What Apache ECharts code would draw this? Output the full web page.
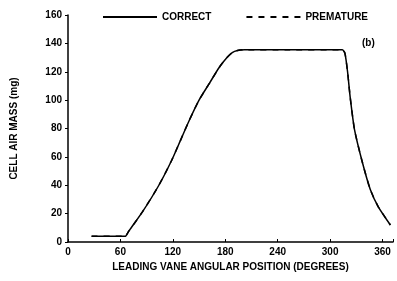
<!DOCTYPE html>
<html><head><meta charset="utf-8">
<script src="https://cdn.jsdelivr.net/npm/echarts@6/dist/echarts.min.js"></script>
<style>html,body{margin:0;padding:0;background:#fff}#c{width:397px;height:281px}</style>
</head><body><div id="c"></div>
<script>
var angles = [27, 66, 67, 70, 85, 104, 119, 129, 139, 150, 162, 173, 182, 188, 194, 202, 250, 314, 317, 320, 323, 328, 337, 346, 355, 369];
var correctMass = [4, 4, 5, 8, 21, 40, 58, 72, 86, 100, 112, 123, 130, 133.5, 135, 135.5, 135.5, 135.5, 133, 120, 102, 79, 56, 37, 25, 12];
var prematureMass = [4, 4, 5, 8, 21, 40, 58, 72, 86, 100, 112, 123, 130, 133.5, 135, 135.5, 135.5, 135.5, 133, 120, 102, 79, 56, 37, 25, 12];
var xTicks = [0, 60, 120, 180, 240, 300, 360];
var yTicks = [0, 20, 40, 60, 80, 100, 120, 140, 160];

function pairs(xs, ys){ return xs.map(function(x,i){return [x, ys[i]];}); }
var F = 'Liberation Sans, Arial, sans-serif';
var chart = echarts.init(document.getElementById('c'), null, {renderer:'canvas'});
chart.setOption({
  animation:false,
  backgroundColor:'#fff',
  grid:{left:68, right:4, top:15, bottom:39},
  legend:{
    left:97, top:7, itemWidth:54, itemHeight:8, itemGap:34,
    itemStyle:{opacity:0},
    textStyle:{fontFamily:F, fontWeight:'bold', fontSize:10, color:'#000'},
    data:[{name:'CORRECT'},{name:'PREMATURE'}]
  },
  xAxis:{
    type:'value', min:0, max:372, interval:60,
    name:'LEADING VANE ANGULAR POSITION (DEGREES)', nameLocation:'middle', nameGap:20,
    nameTextStyle:{fontFamily:F, fontWeight:'bold', fontSize:10, color:'#000'},
    axisLine:{lineStyle:{color:'#000', width:1.5}},
    axisTick:{inside:true, length:3, lineStyle:{color:'#000'}},
    splitLine:{show:false},
    axisLabel:{fontFamily:F, fontWeight:'bold', fontSize:10, color:'#000', margin:5,
      formatter:function(v){ return xTicks.indexOf(v) >= 0 ? String(v) : ''; }}
  },
  yAxis:{
    type:'value', min:0, max:160, interval:20,
    name:'CELL AIR MASS (mg)', nameLocation:'middle', nameGap:49, nameRotate:90,
    nameTextStyle:{fontFamily:F, fontWeight:'bold', fontSize:10, color:'#000'},
    axisLine:{show:true, lineStyle:{color:'#000', width:1.5}},
    axisTick:{show:true, length:3, lineStyle:{color:'#000'}},
    splitLine:{show:false},
    axisLabel:{fontFamily:F, fontWeight:'bold', fontSize:10, color:'#000', margin:6,
      formatter:function(v){ return yTicks.indexOf(v) >= 0 ? String(v) : ''; }}
  },
  graphic:[{type:'text', left:362, top:38, style:{text:'(b)', fontFamily:F, fontWeight:'bold', fontSize:10, fill:'#000'}}],
  series:[
    {name:'PREMATURE', type:'line', showSymbol:false, symbolSize:0, smooth:0.2, data:pairs(angles, prematureMass),
      lineStyle:{color:'#000', width:1.5, type:[6,6]}, itemStyle:{color:'#000'}, z:1},
    {name:'CORRECT', type:'line', showSymbol:false, symbolSize:0, smooth:0.2, data:pairs(angles, correctMass),
      lineStyle:{color:'#000', width:1.5}, itemStyle:{color:'#000'}, z:2}
  ]
});
</script></body></html>
